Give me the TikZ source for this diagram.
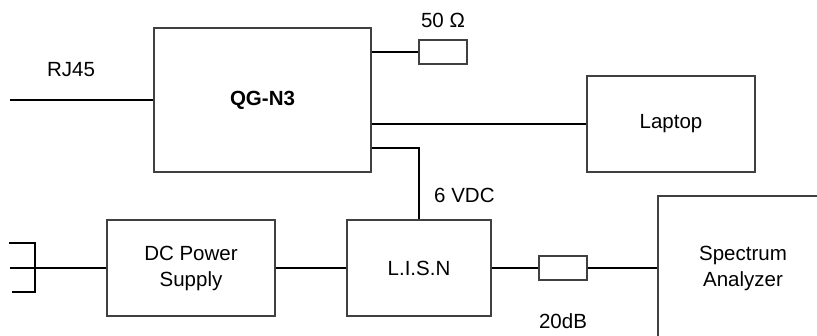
\documentclass[tikz,border=0pt]{standalone}
\usepackage{fontspec}
\setmainfont{Liberation Sans}
\begin{document}
\begin{tikzpicture}[x=1pt,y=-1pt,
  box/.style={draw=black!75,line width=1.1pt,rectangle,inner sep=0pt,align=center,font=\fontsize{20.5}{26}\selectfont},
  wire/.style={draw=black,line width=1.8pt},
  lbl/.style={inner sep=0pt,font=\fontsize{20.5}{26}\selectfont}]
\useasboundingbox (0,0) rectangle (817,335);
\clip (0,0) rectangle (817,335);
% blocks
\node[box,minimum width=217,minimum height=144,font=\fontsize{20.5}{26}\selectfont\bfseries] (qg) at (262.5,100) {QG-N3};
\node[box,minimum width=168,minimum height=96] (laptop) at (671,124) {Laptop};
\node[box,minimum width=48,minimum height=24] (r50) at (443,52) {};
\node[box,minimum width=168,minimum height=96] (dcps) at (191,268) {DC Power\\Supply};
\node[box,minimum width=144,minimum height=96] (lisn) at (419,268) {L.I.S.N};
\node[box,minimum width=48,minimum height=24] (att) at (563,268) {};
\node[box,minimum width=170,minimum height=144] (sa) at (743,268) {Spectrum\\Analyzer};
% labels
\node[lbl] (lrj) at (71,70) {RJ45};
\node[lbl] (lr50) at (443,20) {50 Ω};
\node[lbl,anchor=west] (lvdc) at (434,195) {6 VDC};
\node[lbl] (latt) at (563,321) {20dB};
% free ends
\coordinate (rj) at (10,100);
\coordinate (pmid) at (10,268);
\coordinate (pv1) at (35,243);
\coordinate (pv2) at (35,292);
\coordinate (pt1) at (9,243);
\coordinate (pt2) at (12,292);
\coordinate (dcy) at (0,148);
% connectors
\draw[wire] (rj) -- (qg.west);
\draw[wire] (qg.east |- r50.west) -- (r50.west);
\draw[wire] (qg.east |- laptop.west) -- (laptop.west);
\draw[wire] (qg.east |- dcy) -| (lisn.north);
\draw[wire] (pmid) -- (dcps.west);
\draw[wire] (pt1) -- (pv1) -- (pv2) -- (pt2);
\draw[wire] (dcps.east) -- (lisn.west);
\draw[wire] (lisn.east) -- (att.west);
\draw[wire] (att.east) -- (sa.west);
\end{tikzpicture}
\end{document}
